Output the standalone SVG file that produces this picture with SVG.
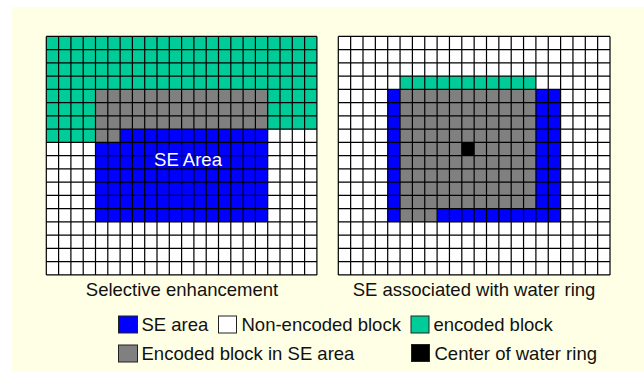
<svg xmlns="http://www.w3.org/2000/svg" width="644" height="372" viewBox="0 0 644 372">
<style>
.t{font-family:"Liberation Sans",Arial,sans-serif;font-size:18.5px;fill:#111}
.lines{fill:none;stroke:#000;stroke-width:1.2}
.teal{fill:#00CC99}.blue{fill:#0000FF}.gray{fill:#808080}.wht{fill:#FFFFFF}.blk{fill:#000000}
.key{stroke:#222;stroke-width:1}
</style>
<rect x="12" y="7" width="632" height="365" fill="#FFFFE6"/>
<g id="grid-selective">
<g transform="translate(46.3,36.4) scale(12.3,13.25)">
<rect class="wht" x="0" y="0" width="22" height="18"/>
<rect class="teal" x="0" y="0" width="22" height="4"/>
<rect class="teal" x="0" y="4" width="4" height="4"/>
<rect class="teal" x="18" y="4" width="4" height="3"/>
<rect class="gray" x="4" y="4" width="14" height="3"/>
<rect class="gray" x="4" y="7" width="2" height="1"/>
<rect class="blue" x="6" y="7" width="12" height="1"/>
<rect class="blue" x="4" y="8" width="14" height="6"/>
</g>
<path class="lines" d="M46.3 36.4v238.5m12.3 -238.5v238.5m12.3 -238.5v238.5m12.3 -238.5v238.5m12.3 -238.5v238.5m12.3 -238.5v238.5m12.3 -238.5v238.5m12.3 -238.5v238.5m12.3 -238.5v238.5m12.3 -238.5v238.5m12.3 -238.5v238.5m12.3 -238.5v238.5m12.3 -238.5v238.5m12.3 -238.5v238.5m12.3 -238.5v238.5m12.3 -238.5v238.5m12.3 -238.5v238.5m12.3 -238.5v238.5m12.3 -238.5v238.5m12.3 -238.5v238.5m12.3 -238.5v238.5m12.3 -238.5v238.5m12.3 -238.5v238.5M46.3 36.4h270.6m-270.6 13.25h270.6m-270.6 13.25h270.6m-270.6 13.25h270.6m-270.6 13.25h270.6m-270.6 13.25h270.6m-270.6 13.25h270.6m-270.6 13.25h270.6m-270.6 13.25h270.6m-270.6 13.25h270.6m-270.6 13.25h270.6m-270.6 13.25h270.6m-270.6 13.25h270.6m-270.6 13.25h270.6m-270.6 13.25h270.6m-270.6 13.25h270.6m-270.6 13.25h270.6m-270.6 13.25h270.6m-270.6 13.25h270.6"/>
<text class="t" x="188" y="166" text-anchor="middle" style="fill:#fff">SE Area</text>
</g>
<g id="grid-water-ring">
<g transform="translate(338.3,36.4) scale(12.35,13.25)">
<rect class="wht" x="0" y="0" width="22" height="18"/>
<rect class="teal" x="5" y="3" width="11" height="1"/>
<rect class="blue" x="4" y="4" width="1" height="10"/>
<rect class="blue" x="16" y="4" width="2" height="10"/>
<rect class="blue" x="8" y="13" width="8" height="1"/>
<rect class="gray" x="5" y="4" width="11" height="9"/>
<rect class="gray" x="5" y="13" width="3" height="1"/>
<rect class="blk" x="10" y="8" width="1" height="1"/>
</g>
<path class="lines" d="M338.3 36.4v238.5m12.35 -238.5v238.5m12.35 -238.5v238.5m12.35 -238.5v238.5m12.35 -238.5v238.5m12.35 -238.5v238.5m12.35 -238.5v238.5m12.35 -238.5v238.5m12.35 -238.5v238.5m12.35 -238.5v238.5m12.35 -238.5v238.5m12.35 -238.5v238.5m12.35 -238.5v238.5m12.35 -238.5v238.5m12.35 -238.5v238.5m12.35 -238.5v238.5m12.35 -238.5v238.5m12.35 -238.5v238.5m12.35 -238.5v238.5m12.35 -238.5v238.5m12.35 -238.5v238.5m12.35 -238.5v238.5m12.35 -238.5v238.5M338.3 36.4h271.7m-271.7 13.25h271.7m-271.7 13.25h271.7m-271.7 13.25h271.7m-271.7 13.25h271.7m-271.7 13.25h271.7m-271.7 13.25h271.7m-271.7 13.25h271.7m-271.7 13.25h271.7m-271.7 13.25h271.7m-271.7 13.25h271.7m-271.7 13.25h271.7m-271.7 13.25h271.7m-271.7 13.25h271.7m-271.7 13.25h271.7m-271.7 13.25h271.7m-271.7 13.25h271.7m-271.7 13.25h271.7m-271.7 13.25h271.7"/>
</g>
<g id="captions">
<text class="t" x="182" y="296" text-anchor="middle">Selective enhancement</text>
<text class="t" x="474" y="296" text-anchor="middle">SE associated with water ring</text>
</g>
<g id="legend">
<rect class="blue key" x="118.5" y="316" width="19" height="17"/>
<text class="t" x="141.5" y="331">SE area</text>
<rect class="wht key" x="218.5" y="316" width="18" height="17"/>
<text class="t" x="241.5" y="331">Non-encoded block</text>
<rect class="teal key" x="411" y="316" width="18" height="17"/>
<text class="t" x="433.5" y="331">encoded block</text>
<rect class="gray key" x="118.5" y="345" width="19" height="17"/>
<text class="t" x="141.5" y="360">Encoded block in SE area</text>
<rect class="blk key" x="411.5" y="344.5" width="18" height="17"/>
<text class="t" x="434.5" y="360">Center of water ring</text>
</g>
</svg>
